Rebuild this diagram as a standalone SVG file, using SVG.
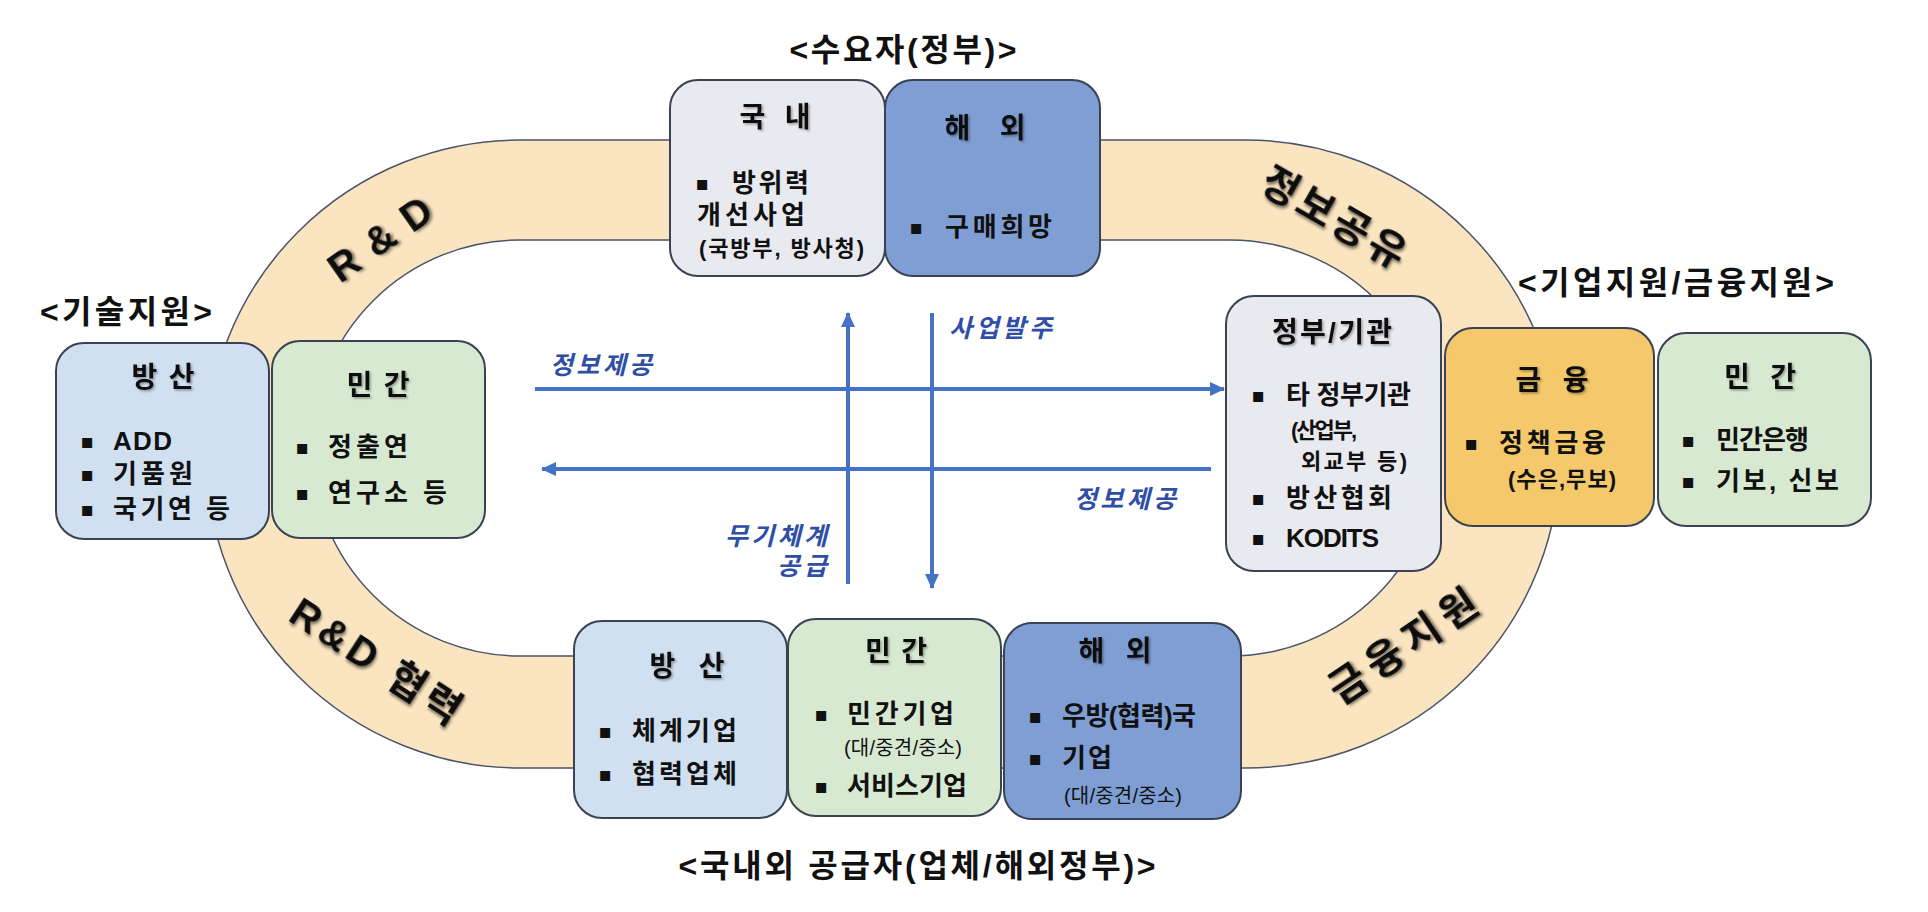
<svg xmlns="http://www.w3.org/2000/svg" width="1928" height="912" viewBox="0 0 1928 912">
<defs>
<style>
.box{stroke:#3A4354;stroke-width:2}
.gray{fill:#E8EAEF}
.blue{fill:#7F9FD4}
.lblue{fill:#D0E0F1}
.green{fill:#D8E9D2}
.orange{fill:#F4C86B}
.t{font-family:'Liberation Sans','Noto Sans CJK KR',sans-serif;font-weight:700;fill:#111;dominant-baseline:central}
.title{font-size:28px;filter:url(#sh)}
.item{font-size:26px}
.sub{font-size:22px}
.small{font-size:20px;font-weight:400}
.head{font-size:32px}
.ring{font-size:40px;filter:url(#sh2)}
.lbl{font-size:25px;font-style:italic;fill:#2F4EA6}
.bul{font-family:'DejaVu Sans',sans-serif;font-size:20px;fill:#111;dominant-baseline:central;text-anchor:middle}
.mid{text-anchor:middle}
.end{text-anchor:end}
.arr{stroke:#4472C4;stroke-width:4;fill:none;marker-end:url(#ah)}
</style>
<filter id="sh" x="-20%" y="-30%" width="140%" height="160%">
<feDropShadow dx="1.5" dy="1.5" stdDeviation="1" flood-color="#000" flood-opacity="0.35"/>
</filter>
<filter id="sh2" x="-20%" y="-30%" width="140%" height="160%">
<feDropShadow dx="2" dy="2" stdDeviation="1.5" flood-color="#000" flood-opacity="0.5"/>
</filter>
<marker id="ah" markerUnits="userSpaceOnUse" markerWidth="16" markerHeight="16" refX="14" refY="8" orient="auto">
<path d="M0,1 L15,8 L0,15 Z" fill="#4472C4"/>
</marker>
</defs>
<rect width="1928" height="912" fill="#fff"/>

<g id="ring">
<path d="M520,140 H1246 A314,314 0 0 1 1246,768 H520 A314,314 0 0 1 520,140 Z M520,240 H1230 A208,208 0 0 1 1230,656 H520 A208,208 0 0 1 520,240 Z" fill="#FBE5C1" fill-rule="evenodd" stroke="#4A5468" stroke-width="1.5"/>
<text class="t ring mid" transform="translate(380,239) rotate(-35)" textLength="117">R &amp; D</text>
<text class="t ring mid" transform="translate(1334,217) rotate(30)" textLength="160">정보공유</text>
<text class="t ring mid" transform="translate(376,661) rotate(33)" textLength="195">R&amp;D 협력</text>
<text class="t ring mid" transform="translate(1403,646) rotate(-34)" textLength="170">금융지원</text>
</g>

<g id="labels">
<text class="t head mid" x="903" y="50" textLength="227">&lt;수요자(정부)&gt;</text>
<text class="t head mid" x="126" y="312" textLength="172">&lt;기술지원&gt;</text>
<text class="t head mid" x="1676" y="283" textLength="316">&lt;기업지원/금융지원&gt;</text>
<text class="t head mid" x="917" y="866" textLength="477">&lt;국내외 공급자(업체/해외정부)&gt;</text>
</g>

<g id="left-defense">
<rect class="box lblue" x="56" y="343" width="213" height="196" rx="28"/>
<text class="t title mid" x="163" y="377" textLength="63">방 산</text>
<text class="bul" x="87" y="441">▪</text><text class="t item" x="113" y="441" textLength="59">ADD</text>
<text class="bul" x="87" y="474">▪</text><text class="t item" x="113" y="474" textLength="80">기품원</text>
<text class="bul" x="87" y="509">▪</text><text class="t item" x="113" y="509" textLength="117">국기연 등</text>
</g>

<g id="left-private">
<rect class="box green" x="272" y="341" width="213" height="197" rx="28"/>
<text class="t title mid" x="378" y="385" textLength="63">민 간</text>
<text class="bul" x="302" y="447">▪</text><text class="t item" x="328" y="447" textLength="80">정출연</text>
<text class="bul" x="302" y="493">▪</text><text class="t item" x="328" y="493" textLength="119">연구소 등</text>
</g>

<g id="top-domestic">
<rect class="box gray" x="670" y="80" width="215" height="196" rx="28"/>
<text class="t title mid" x="775" y="117" textLength="71">국 내</text>
<text class="bul" x="702" y="183">▪</text><text class="t item" x="732" y="183" textLength="77">방위력</text>
<text class="t item" x="697" y="215" textLength="108">개선사업</text>
<text class="t sub" x="699" y="248" textLength="165">(국방부, 방사청)</text>
</g>

<g id="top-overseas">
<rect class="box blue" x="885" y="80" width="215" height="196" rx="28"/>
<text class="t title mid" x="985" y="128" textLength="81">해 외</text>
<text class="bul" x="916" y="227">▪</text><text class="t item" x="945" y="227" textLength="107">구매희망</text>
</g>

<g id="gov-agency">
<rect class="box gray" x="1226" y="296" width="215" height="275" rx="28"/>
<text class="t title mid" x="1332" y="332" textLength="120">정부/기관</text>
<text class="bul" x="1258" y="395">▪</text><text class="t item" x="1286" y="395" textLength="125">타 정부기관</text>
<text class="t sub" x="1291" y="430" textLength="66">(산업부,</text>
<text class="t sub" x="1301" y="461" textLength="106">외교부 등)</text>
<text class="bul" x="1258" y="498">▪</text><text class="t item" x="1286" y="498" textLength="106">방산협회</text>
<text class="bul" x="1258" y="538">▪</text><text class="t item" x="1286" y="538" textLength="93">KODITS</text>
</g>

<g id="finance">
<rect class="box orange" x="1445" y="328" width="209" height="198" rx="28"/>
<text class="t title mid" x="1552" y="380" textLength="73">금 융</text>
<text class="bul" x="1471" y="443">▪</text><text class="t item" x="1499" y="443" textLength="107">정책금융</text>
<text class="t sub" x="1508" y="479" textLength="108">(수은,무보)</text>
</g>

<g id="right-private">
<rect class="box green" x="1658" y="333" width="213" height="193" rx="28"/>
<text class="t title mid" x="1760" y="377" textLength="72">민 간</text>
<text class="bul" x="1688" y="440">▪</text><text class="t item" x="1716" y="440" textLength="93">민간은행</text>
<text class="bul" x="1688" y="481">▪</text><text class="t item" x="1716" y="481" textLength="123">기보, 신보</text>
</g>

<g id="bottom-defense">
<rect class="box lblue" x="574" y="621" width="213" height="197" rx="28"/>
<text class="t title mid" x="687" y="666" textLength="75">방 산</text>
<text class="bul" x="605" y="731">▪</text><text class="t item" x="632" y="731" textLength="105">체계기업</text>
<text class="bul" x="605" y="774">▪</text><text class="t item" x="632" y="774" textLength="105">협력업체</text>
</g>

<g id="bottom-private">
<rect class="box green" x="788" y="619" width="213" height="197" rx="28"/>
<text class="t title mid" x="896" y="651" textLength="62">민 간</text>
<text class="bul" x="821" y="714">▪</text><text class="t item" x="847" y="714" textLength="107">민간기업</text>
<text class="t small" x="844" y="748" textLength="118">(대/중견/중소)</text>
<text class="bul" x="821" y="786">▪</text><text class="t item" x="847" y="786" textLength="120">서비스기업</text>
</g>

<g id="bottom-overseas">
<rect class="box blue" x="1004" y="623" width="237" height="196" rx="28"/>
<text class="t title mid" x="1115" y="651" textLength="73">해 외</text>
<text class="bul" x="1035" y="716">▪</text><text class="t item" x="1062" y="716" textLength="134">우방(협력)국</text>
<text class="bul" x="1035" y="758">▪</text><text class="t item" x="1062" y="758" textLength="50">기업</text>
<text class="t small" x="1064" y="796" textLength="118">(대/중견/중소)</text>
</g>

<g id="connectors">
<line class="arr" x1="535" y1="389" x2="1224" y2="389"/>
<line class="arr" x1="1211" y1="469" x2="542" y2="469"/>
<line class="arr" x1="848" y1="584" x2="848" y2="313"/>
<line class="arr" x1="932" y1="313" x2="932" y2="588"/>
<text class="t lbl" x="550" y="365" textLength="102">정보제공</text>
<text class="t lbl" x="949" y="328" textLength="103">사업발주</text>
<text class="t lbl" x="1074" y="499" textLength="102">정보제공</text>
<text class="t lbl end" x="827" y="536" textLength="102">무기체계</text>
<text class="t lbl end" x="827" y="566" textLength="50">공급</text>
</g>
</svg>
